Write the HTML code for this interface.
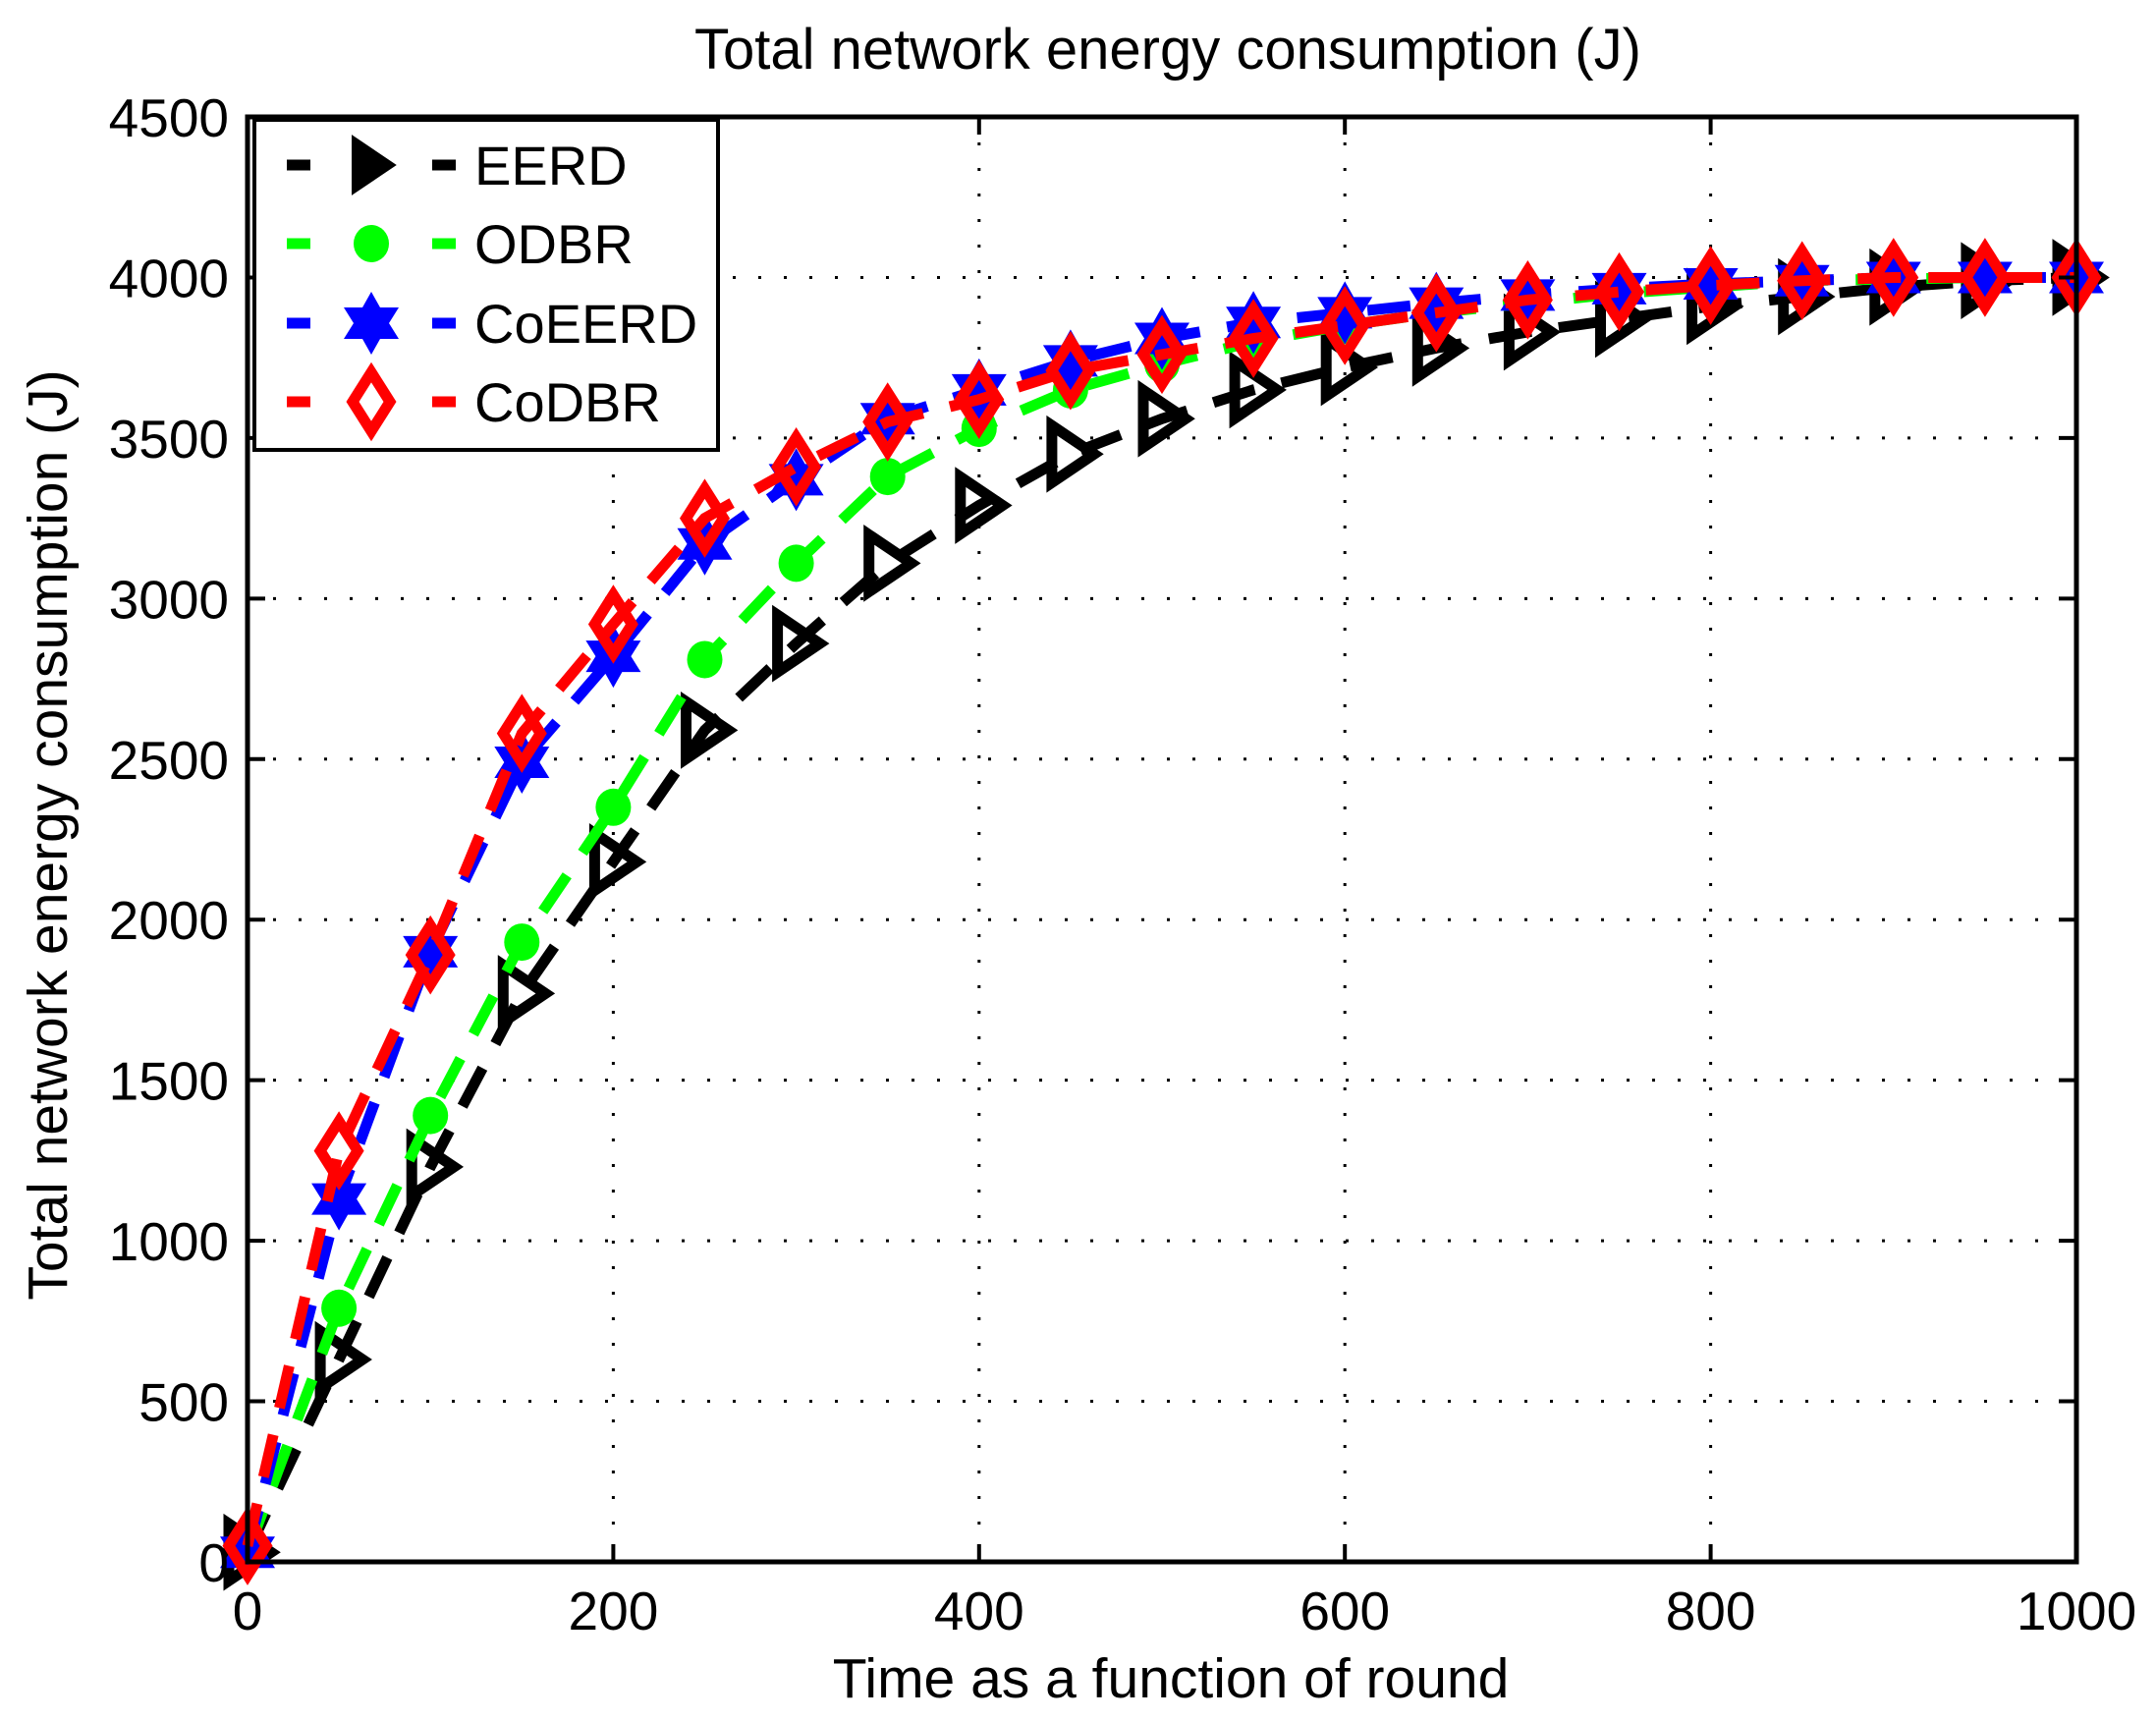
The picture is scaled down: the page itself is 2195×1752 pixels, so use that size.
<!DOCTYPE html>
<html><head><meta charset="utf-8"><style>
html,body{margin:0;padding:0;background:#fff;}
svg{display:block;font-family:"Liberation Sans",Arial,sans-serif;}
</style></head><body>
<svg id="s" width="2195" height="1752" viewBox="0 0 2195 1752" xmlns="http://www.w3.org/2000/svg">
<rect width="2195" height="1752" fill="#fff"/>
<g id="grid"></g>
<g id="data"></g>
<rect x="252" y="119" width="1862" height="1471" fill="none" stroke="#000" stroke-width="5"/>
<g id="ticks"></g>
<text x="1189" y="70" font-size="58" text-anchor="middle">Total network energy consumption (J)</text>
<text x="1192" y="1728" font-size="57" text-anchor="middle">Time as a function of round</text>
<text transform="translate(68,850) rotate(-90)" font-size="57" text-anchor="middle">Total network energy consumption (J)</text>
<g id="legend">
<rect x="259" y="122" width="472" height="336" fill="#fff" stroke="#000" stroke-width="4"/>
</g>
</svg>
<script>
const NS="http://www.w3.org/2000/svg";
function el(p,t,a){const e=document.createElementNS(NS,t);for(const k in a)e.setAttribute(k,a[k]);p.appendChild(e);return e;}
const L=252,R=2114,T=119,B=1590;
const X=v=>L+(R-L)*v/1000, Y=v=>B-(B-T)*v/4500;
const g=document.getElementById('grid'),tk=document.getElementById('ticks');
for(let i=0;i<=5;i++){const x=X(i*200);
 if(i>0&&i<5) el(g,'line',{x1:x,y1:T,x2:x,y2:B,stroke:'#000','stroke-width':3,'stroke-dasharray':'3 23'});
 el(tk,'line',{x1:x,y1:B,x2:x,y2:B-18,stroke:'#000','stroke-width':4});
 el(tk,'line',{x1:x,y1:T,x2:x,y2:T+18,stroke:'#000','stroke-width':4});
 const t=el(tk,'text',{x:x,y:1659,'font-size':55,'text-anchor':'middle'});t.textContent=i*200;}
for(let i=0;i<=9;i++){const y=Y(i*500);
 if(i>0&&i<9) el(g,'line',{x1:L,y1:y,x2:R,y2:y,stroke:'#000','stroke-width':3,'stroke-dasharray':'3 23'});
 el(tk,'line',{x1:L,y1:y,x2:L+18,y2:y,stroke:'#000','stroke-width':4});
 el(tk,'line',{x1:R,y1:y,x2:R-18,y2:y,stroke:'#000','stroke-width':4});
 const t=el(tk,'text',{x:233,y:y+20,'font-size':55,'text-anchor':'end'});t.textContent=i*500;}
const xs=[];for(let i=0;i<=20;i++)xs.push(i*50);
const S=[
 {c:'#000',m:'tri',d:[30,630,1230,1770,2180,2590,2860,3110,3290,3450,3560,3650,3720,3780,3830,3870,3910,3940,3970,3990,4000]},
 {c:'#00ff00',m:'cir',d:[30,790,1390,1930,2350,2810,3110,3380,3530,3650,3730,3800,3850,3890,3920,3950,3970,3990,3995,4000,4000]},
 {c:'#0000ff',m:'star',d:[30,1130,1900,2490,2820,3170,3370,3560,3650,3740,3810,3860,3890,3920,3945,3965,3980,3990,4000,4000,4000]},
 {c:'#ff0000',m:'dia',d:[50,1280,1890,2580,2920,3250,3410,3550,3620,3710,3760,3810,3850,3890,3930,3955,3975,3990,4000,4000,4000]}];
function marker(p,m,c,x,y,legend){
 if(m==='tri'){el(p,'polygon',{points:`${x-19},${y-29} ${x+24},${y} ${x-19},${y+29}`,fill:legend?c:'none',stroke:c,'stroke-width':legend?2:11,'stroke-linejoin':'miter'});}
 else if(m==='cir'){el(p,'ellipse',{cx:x,cy:y,rx:18,ry:19,fill:c});}
 else if(m==='star'){el(p,'polygon',{points:`${x},${y-32} ${x+9},${y-16} ${x+28},${y-16} ${x+18},${y} ${x+28},${y+16} ${x+9},${y+16} ${x},${y+32} ${x-9},${y+16} ${x-28},${y+16} ${x-18},${y} ${x-28},${y-16} ${x-9},${y-16}`,fill:c});}
 else {el(p,'polygon',{points:`${x},${y-30} ${x+19},${y} ${x},${y+30} ${x-19},${y}`,fill:'none',stroke:c,'stroke-width':11});}
}
const dg=document.getElementById('data');
S.forEach(s=>{
 el(dg,'polyline',{points:xs.map((v,i)=>X(v)+','+Y(s.d[i])).join(' '),fill:'none',stroke:s.c,'stroke-width':11,'stroke-dasharray':'44 28'});
 xs.forEach((v,i)=>marker(dg,s.m,s.c,X(v),Y(s.d[i]),false));
});
const lg=document.getElementById('legend');
const names=['EERD','ODBR','CoEERD','CoDBR'],ly=[168,248,329,409];
S.forEach((s,i)=>{const y=ly[i];
 el(lg,'line',{x1:292,y1:y,x2:316,y2:y,stroke:s.c,'stroke-width':11});
 el(lg,'line',{x1:440,y1:y,x2:464,y2:y,stroke:s.c,'stroke-width':11});
 marker(lg,s.m,s.c,378,y,true);
 const t=el(lg,'text',{x:483,y:y+20,'font-size':56});t.textContent=names[i];});
</script>
</body></html>
